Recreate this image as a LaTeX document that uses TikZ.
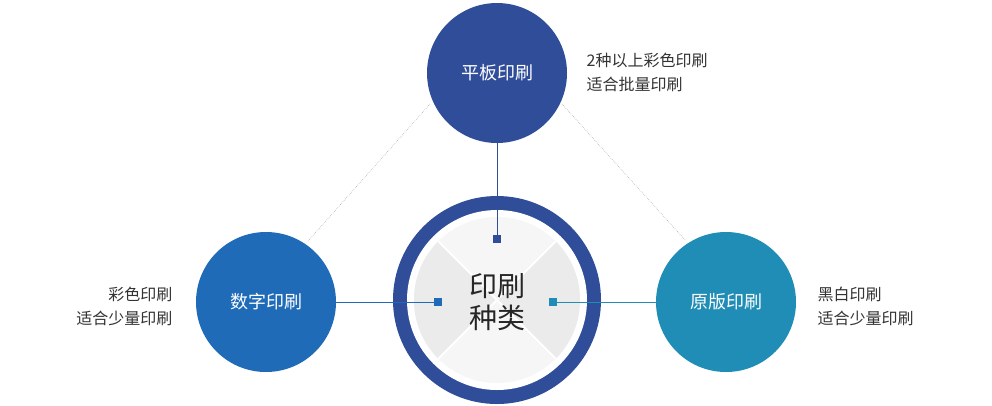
\documentclass[tikz,border=0pt]{standalone}
\usepackage{fontspec}
\setmainfont{Noto Sans CJK SC}
\begin{document}
\begin{tikzpicture}[x=0.75pt,y=-0.75pt,
  big/.style={circle,minimum size=105pt,inner sep=0pt,text=white,font=\fontsize{13.5}{15}\selectfont},
  side/.style={align=left,text=black!80,font=\fontsize{12}{18}\selectfont},
  sq/.style={minimum size=5.5pt,inner sep=0pt}]
\useasboundingbox (0,0) rectangle (992,405);
\definecolor{cA}{HTML}{2F4D99}\definecolor{cB}{HTML}{1F6BB8}\definecolor{cC}{HTML}{1F8DB5}
\draw[gray!80,densely dotted] (430,104) -- (308,241);
\draw[gray!80,densely dotted] (562,104) -- (686,241);
% center
\fill[cA] (497,300) circle (104*0.75pt);
\fill[white] (497,300) circle (90*0.75pt);
\fill[gray!7] (497,300) circle (83*0.75pt);
\begin{scope}
\clip (497,300) circle (83*0.75pt);
\fill[gray!16] (497,300) -- (400,203) -- (400,397) -- cycle;
\fill[gray!16] (497,300) -- (594,203) -- (594,397) -- cycle;
\draw[white,line width=1.5pt] (400,203) -- (594,397) (594,203) -- (400,397);
\end{scope}
\node[font=\fontsize{21}{24}\selectfont,text=black!85,align=center] (c) at (497,302) {印刷\\种类};
\node[big,fill=cA] (t) at (497,73) {平板印刷};
\node[big,fill=cB] (l) at (266,302) {数字印刷};
\node[big,fill=cC] (r) at (726,302) {原版印刷};
\node[sq,fill=cA] (st) at (497,239) {};
\node[sq,fill=cB] (sl) at (438,302) {};
\node[sq,fill=cC] (sr) at (553,302) {};
\draw[cA,line width=0.6pt] (t) -- (st);
\draw[cB,line width=0.6pt] (l) -- (sl);
\draw[cC,line width=0.6pt] (sr) -- (r);
\node[side,anchor=west] (tt) at (582,72) {2种以上彩色印刷\\适合批量印刷};
\node[side,anchor=east,align=right] (lt) at (177,306) {彩色印刷\\适合少量印刷};
\node[side,anchor=west] (rt) at (813,306) {黑白印刷\\适合少量印刷};
\end{tikzpicture}
\end{document}
